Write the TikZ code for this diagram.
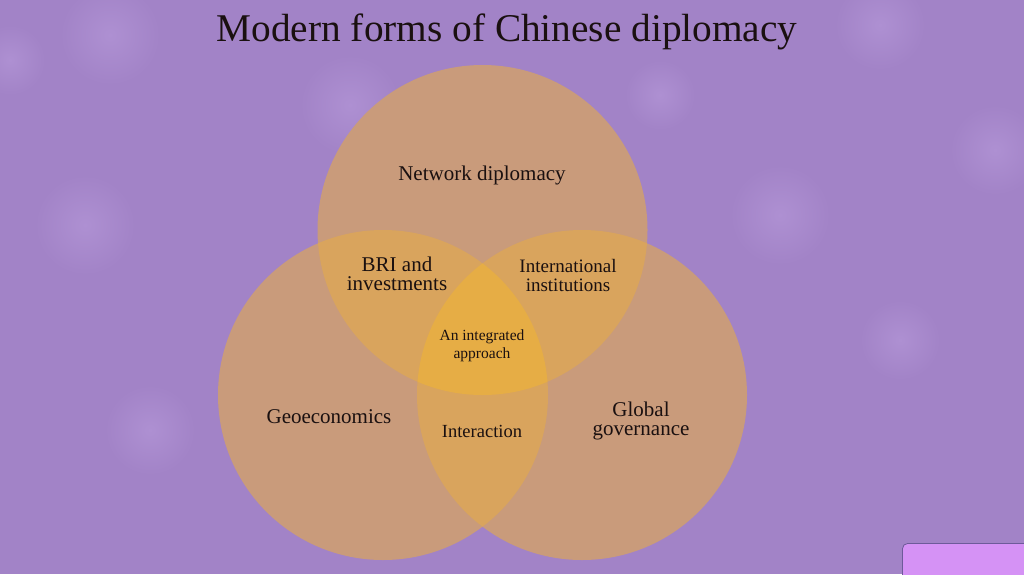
\documentclass[tikz,border=0pt]{standalone}
\usepackage{fontspec}
\setmainfont{Liberation Serif}
\definecolor{bg}{HTML}{A283C7}
\definecolor{spot}{HTML}{AE90D2}
\definecolor{tan}{HTML}{C99B7B}
\definecolor{pair}{HTML}{D9A45D}
\definecolor{core}{HTML}{E6AD45}
\definecolor{btnfill}{HTML}{D592F5}
\definecolor{btnline}{HTML}{6E5A9A}
\definecolor{ink}{HTML}{1A1010}
\begin{document}
\begin{tikzpicture}[x=1pt,y=-1pt,
  lbl/.style={text=ink,align=center,inner sep=0pt,font=\fontsize{21}{19.5}\selectfont},
  lblsmall/.style={text=ink,align=center,inner sep=0pt,font=\fontsize{15.5}{18}\selectfont}]
\useasboundingbox (0,0) rectangle (1024,574);
\fill[bg] (0,0) rectangle (1024,574);
% soft background spots
\foreach \x/\y/\r in {110/35/50, 350/105/50, 85/225/50, 995/150/45, 780/215/50, 150/430/45, 900/340/40, 880/25/45, 660/95/35, 10/60/35}{
  \shade[inner color=spot,outer color=bg] (\x,\y) circle (\r);
}
% circles
\def\ctop{(482.5,230) circle (165)}
\def\cleft{(383,395) circle (165)}
\def\cright{(582,395) circle (165)}
\fill[tan] \ctop;
\fill[tan] \cleft;
\fill[tan] \cright;
\begin{scope}\clip \ctop; \fill[pair] \cleft; \fill[pair] \cright; \end{scope}
\begin{scope}\clip \cleft; \fill[pair] \cright; \end{scope}
\begin{scope}\clip \ctop; \clip \cleft; \fill[core] \cright; \end{scope}
% title
\node[text=ink,inner sep=0pt,font=\fontsize{39.3}{40}\selectfont] (title) at (507,32) {Modern forms of Chinese diplomacy};
% labels
\node[lbl] (net) at (482,175) {Network diplomacy};
\node[lbl] (bri) at (397,274) {BRI and\\investments};
\node[lbl,font=\fontsize{19}{19}\selectfont] (inst) at (568,275) {International\\institutions};
\node[lblsmall] (integ) at (482,346) {An integrated\\approach};
\node[lbl,font=\fontsize{18.5}{20}\selectfont] (inter) at (482,431) {Interaction};
\node[lbl] (geo) at (329,417) {Geoeconomics};
\node[lbl] (glob) at (641,421) {Global\\governance};
% corner button
\draw[btnline,fill=btnfill,line width=0.8pt,rounded corners=5pt] (902.5,543.5) rectangle (1040,590);
\end{tikzpicture}
\end{document}
